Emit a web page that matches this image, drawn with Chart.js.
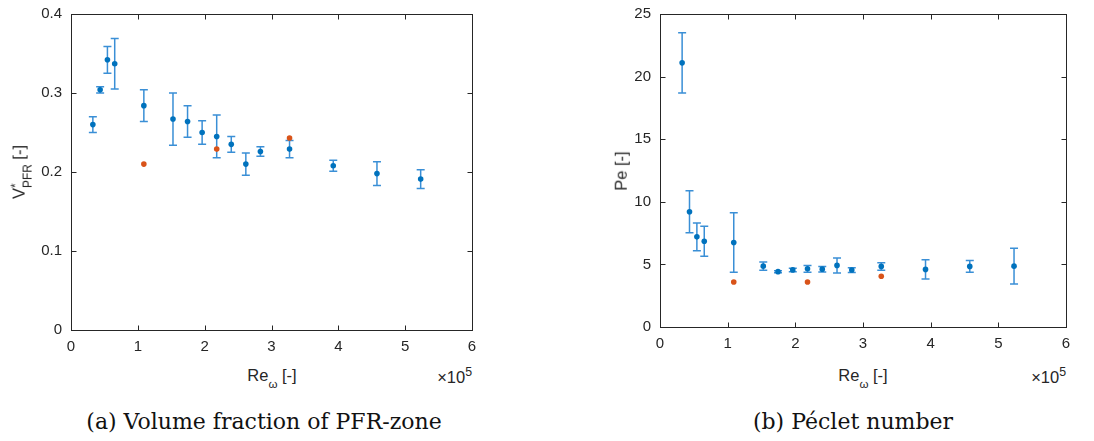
<!DOCTYPE html>
<html>
<head>
<meta charset="utf-8">
<script src="https://cdn.jsdelivr.net/npm/chart.js@4.4.1/dist/chart.umd.min.js"></script>
<style>
  body { margin: 0; background: #fff; width: 1094px; height: 441px; overflow: hidden; position: relative; }
  .plot { position: absolute; top: 0; }
  .lbl { position: absolute; font-family: "Liberation Sans", Arial, sans-serif; color: #262626; white-space: nowrap; line-height: 1; }
  .ylbl { transform: translate(-50%, -50%) rotate(-90deg); }
  .cap { position: absolute; font-family: "DejaVu Serif", "Liberation Serif", serif; font-size: 22px; color: #111; white-space: nowrap; transform: translateX(-50%); }
  sub, sup { line-height: 0; }
</style>
</head>
<body>
<div class="plot" style="left:0px"><canvas id="chartA" width="550" height="360"></canvas></div>
<div class="plot" style="left:550px"><canvas id="chartB" width="544" height="360"></canvas></div>

<div class="lbl ylbl" style="left:22px; top:172px; font-size:16.5px">V<span style="display:inline-block; vertical-align:-0.55em; line-height:0.95; font-size:0.72em"><span style="display:block">*</span><span style="display:block">PFR</span></span> [-]</div>
<div class="lbl ylbl" style="left:621px; top:171px; font-size:16.5px">Pe [-]</div>

<div class="lbl" style="left:272px; top:367px; font-size:16.5px; transform:translateX(-50%)">Re<sub style="font-size:0.7em; vertical-align:-0.6em">ω</sub> [-]</div>
<div class="lbl" style="left:863px; top:367px; font-size:16.5px; transform:translateX(-50%)">Re<sub style="font-size:0.7em; vertical-align:-0.6em">ω</sub> [-]</div>

<div class="lbl" style="right:622px; top:369px; font-size:16.5px">×10<sup style="font-size:0.75em; vertical-align:0.55em">5</sup></div>
<div class="lbl" style="right:28px; top:369px; font-size:16.5px">×10<sup style="font-size:0.75em; vertical-align:0.55em">5</sup></div>

<div class="cap" style="left:264px; top:409px">(a) Volume fraction of PFR-zone</div>
<div class="cap" style="left:853px; top:409px">(b) Péclet number</div>

<script>
// Reynolds numbers (same for both panels)
const reOmega = [32700, 43600, 54500, 65400, 109000, 152600, 174400, 196200, 218000, 239800, 261600, 283400, 327000, 392400, 457800, 523200];

// (a) volume fraction of PFR zone
const vPfr    = [0.260, 0.304, 0.342, 0.337, 0.284, 0.267, 0.264, 0.250, 0.245, 0.235, 0.210, 0.226, 0.229, 0.208, 0.198, 0.191];
const vPfrErr = [0.010, 0.004, 0.017, 0.032, 0.020, 0.033, 0.020, 0.015, 0.027, 0.010, 0.014, 0.006, 0.011, 0.007, 0.015, 0.012];
const reSim   = [109000, 218000, 327000];
const vPfrSim = [0.210, 0.229, 0.243];

// (b) Peclet number
const pe      = [21.1, 9.2, 7.2, 6.85, 6.75, 4.86, 4.42, 4.56, 4.65, 4.62, 4.92, 4.55, 4.84, 4.6, 4.84, 4.86];
const peErr   = [2.4, 1.68, 1.1, 1.2, 2.37, 0.33, 0.08, 0.14, 0.27, 0.22, 0.6, 0.19, 0.3, 0.77, 0.47, 1.43];
const peSim   = [3.6, 3.6, 4.05];

const xTicks = ['0', '1', '2', '3', '4', '5', '6'];
const yTicksA = ['0', '0.1', '0.2', '0.3', '0.4'];
const yTicksB = ['0', '5', '10', '15', '20', '25'];

const axisColor = '#262626';
const blue = '#0072BD';
const barBlue = '#3a8fd6';
const orange = '#D95319';

// error bars drawn from the dataset values through the chart scales
const errorBars = {
  id: 'errorBars',
  beforeDatasetsDraw(chart, args, opts) {
    const { ctx, scales: { x, y } } = chart;
    const ds = chart.data.datasets[opts.index];
    ctx.save();
    ctx.strokeStyle = barBlue;
    ctx.lineWidth = 1.5;
    ds.data.forEach((p, i) => {
      const px = x.getPixelForValue(p.x);
      const top = y.getPixelForValue(p.y + opts.err[i]);
      const bot = y.getPixelForValue(p.y - opts.err[i]);
      ctx.beginPath();
      ctx.moveTo(px, top); ctx.lineTo(px, bot);
      ctx.moveTo(px - 4, top); ctx.lineTo(px + 4, top);
      ctx.moveTo(px - 4, bot); ctx.lineTo(px + 4, bot);
      ctx.stroke();
    });
    ctx.restore();
  }
};

// matlab style box with inward ticks on all four sides
const boxTicks = {
  id: 'boxTicks',
  afterDraw(chart) {
    const { ctx, chartArea: a, scales: { x, y } } = chart;
    const L = Math.round(a.left) + 0.5, R = Math.round(a.right) + 0.5;
    const T = Math.round(a.top) + 0.5, B = Math.round(a.bottom) + 0.5;
    ctx.save();
    ctx.strokeStyle = axisColor;
    ctx.lineWidth = 1;
    ctx.strokeRect(L, T, R - L, B - T);
    ctx.beginPath();
    x.ticks.forEach(t => {
      const px = Math.round(x.getPixelForValue(t.value)) + 0.5;
      ctx.moveTo(px, B); ctx.lineTo(px, B - 5);
      ctx.moveTo(px, T); ctx.lineTo(px, T + 5);
    });
    y.ticks.forEach(t => {
      const py = Math.round(y.getPixelForValue(t.value)) + 0.5;
      ctx.moveTo(L, py); ctx.lineTo(L + 5, py);
      ctx.moveTo(R, py); ctx.lineTo(R - 5, py);
    });
    ctx.stroke();
    ctx.restore();
  }
};

function makeChart(id, yVals, yErr, ySim, yMax, yStep, yLabels, yWidth, xHeight, padRight) {
  const tickFont = { family: '"Liberation Sans", Arial, sans-serif', size: 15 };
  return new Chart(document.getElementById(id), {
    type: 'scatter',
    data: {
      datasets: [
        {
          data: reSim.map((v, i) => ({ x: v, y: ySim[i] })),
          backgroundColor: orange, borderWidth: 0, pointRadius: 2.8, order: 0
        },
        {
          data: reOmega.map((v, i) => ({ x: v, y: yVals[i] })),
          backgroundColor: blue, borderWidth: 0, pointRadius: 2.8, order: 1
        }
      ]
    },
    options: {
      responsive: false,
      animation: false,
      events: [],
      layout: { padding: { left: 0, right: padRight, top: 14, bottom: 0 } },
      plugins: {
        legend: { display: false },
        tooltip: { enabled: false },
        errorBars: { index: 1, err: yErr }
      },
      scales: {
        x: {
          type: 'linear', min: 0, max: 600000,
          grid: { display: false, drawTicks: false },
          border: { display: false },
          afterFit(s) { s.height = xHeight; s.paddingLeft = 0; s.paddingRight = 0; },
          ticks: {
            stepSize: 100000, color: axisColor, font: tickFont, padding: 8, maxRotation: 0,
            callback: (v, i) => xTicks[i]
          }
        },
        y: {
          type: 'linear', min: 0, max: yMax,
          grid: { display: false, drawTicks: false },
          border: { display: false },
          afterFit(s) { s.width = yWidth; s.paddingTop = 0; s.paddingBottom = 0; },
          ticks: {
            stepSize: yStep, color: axisColor, font: tickFont, padding: 9,
            callback: (v, i) => yLabels[i]
          }
        }
      }
    },
    plugins: [errorBars, boxTicks]
  });
}

makeChart('chartA', vPfr, vPfrErr, vPfrSim, 0.4, 0.1, yTicksA, 71, 30, 78);
makeChart('chartB', pe, peErr, peSim, 25, 5, yTicksB, 110, 33, 28);
</script>
</body>
</html>
